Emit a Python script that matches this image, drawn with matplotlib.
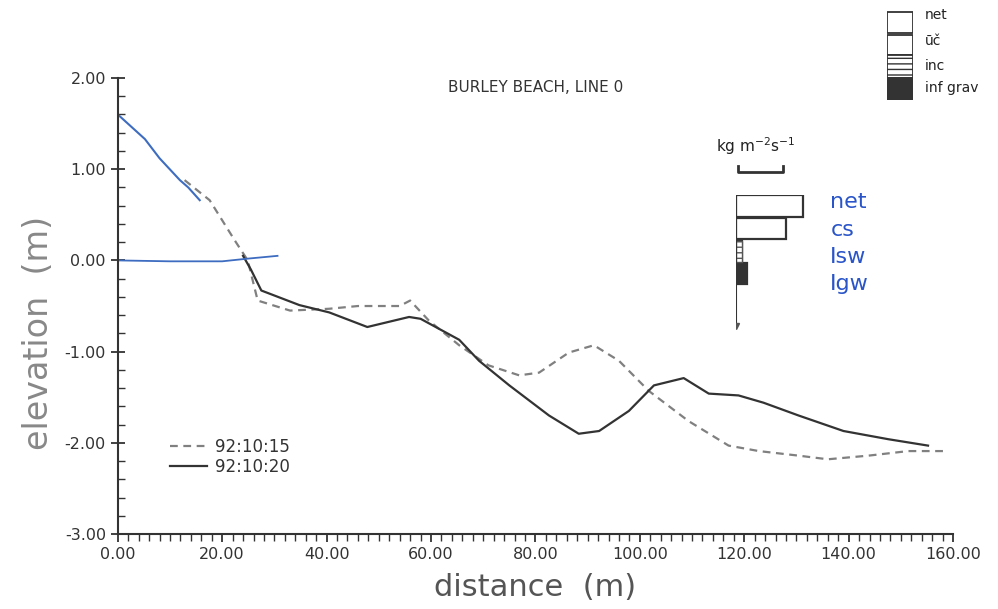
import numpy as np
import matplotlib.pyplot as plt
from matplotlib.ticker import MultipleLocator, FormatStrFormatter

# profile surveyed 92:10:15 (dashed)
x_15 = [12.8, 17.6, 22.4, 24.9, 26.8, 33.0, 40.5, 46.0, 54.0, 56.0, 59.6, 65.4,
        71.0, 76.9, 80.7, 86.4, 91.2, 96.0, 101.7, 109.3, 117.0, 122.8, 130.4,
        136.0, 143.8, 151.4, 158.7]
z_15 = [0.88, 0.66, 0.22, 0.00, -0.44, -0.55, -0.53, -0.50, -0.50, -0.44, -0.66, -0.93,
        -1.15, -1.26, -1.23, -1.01, -0.93, -1.10, -1.43, -1.76, -2.03, -2.09, -2.14,
        -2.18, -2.14, -2.09, -2.09]

# profile surveyed 92:10:20 (solid)
x_20 = [24.0, 25.5, 27.5, 34.8, 40.5, 47.8, 55.8, 58.0, 65.4, 69.2, 75.0, 82.6,
        88.3, 92.2, 97.9, 102.7, 108.4, 113.2, 118.9, 123.7, 130.4, 139.0, 147.6, 155.2]
z_20 = [0.05, -0.10, -0.33, -0.49, -0.57, -0.73, -0.62, -0.64, -0.87, -1.10, -1.37, -1.70,
        -1.90, -1.87, -1.65, -1.37, -1.29, -1.46, -1.48, -1.56, -1.70, -1.87, -1.96, -2.03]

# hand-drawn blue lines
x_blue1 = [0.0, 5.2, 8.0, 11.9, 13.5, 15.7]
z_blue1 = [1.60, 1.33, 1.12, 0.88, 0.80, 0.66]
x_blue2 = [0.0, 10.0, 20.0, 25.0, 30.6]
z_blue2 = [0.00, -0.01, -0.01, 0.02, 0.05]

# inset flux bars (kg m-2 s-1, scale bar = 1)
flux_names = ["net", "cs", "inc", "ig"]
flux_vals = [1.5, 1.13, 0.15, 0.26]
scale_len = 1.0
hand_labels = ["net", "cs", "Isw", "Igw"]

key_labels = ["net", "ūč", "inc", "inf grav"]

grey = "#555555"

fig = plt.figure(figsize=(9.98, 6.09), dpi=100)
ax = fig.add_axes([0.118, 0.123, 0.837, 0.749])

ax.plot(x_15, z_15, '--', color="#808080", lw=1.6, dashes=(3.5, 2.5), label="92:10:15")
ax.plot(x_20, z_20, '-', color="#333333", lw=1.6, label="92:10:20")
ax.plot(x_blue1, z_blue1, '-', color="#3d6cc0", lw=1.5)
ax.plot(x_blue2, z_blue2, '-', color="#3d6cc0", lw=1.3)

ax.set_xlim(0, 160)
ax.set_ylim(-3, 2)
ax.spines['top'].set_visible(False)
ax.spines['right'].set_visible(False)
for s in ['left', 'bottom']:
    ax.spines[s].set_color("#333333")
    ax.spines[s].set_linewidth(1.5)
ax.xaxis.set_major_locator(MultipleLocator(20))
ax.xaxis.set_minor_locator(MultipleLocator(2))
ax.yaxis.set_major_locator(MultipleLocator(1))
ax.yaxis.set_minor_locator(MultipleLocator(0.2))
ax.xaxis.set_major_formatter(FormatStrFormatter('%.2f'))
ax.yaxis.set_major_formatter(FormatStrFormatter('%.2f'))
ax.tick_params(axis='x', which='major', direction='out', length=6, width=1.3,
               colors="#333333", labelsize=11.5)
ax.tick_params(axis='x', which='minor', direction='out', length=5, width=1.0, color="#333333")
ax.tick_params(axis='y', which='major', direction='inout', length=10, width=1.3,
               colors="#333333", labelsize=11.5)
ax.tick_params(axis='y', which='minor', direction='in', length=5, width=1.0, color="#333333")

ax.set_xlabel("distance  (m)", fontsize=22, color=grey, labelpad=8)
ax.set_ylabel("elevation  (m)", fontsize=24, color="#888888")
ax.yaxis.set_label_coords(-0.075, 0.44)
ax.set_title("BURLEY BEACH, LINE 0", fontsize=11, color="#333333", x=0.5, y=0.95)

leg = ax.legend(loc="lower left", bbox_to_anchor=(0.045, 0.095), frameon=False,
                fontsize=12, handlelength=2.2, labelspacing=0.1, handletextpad=0.5)
for t in leg.get_texts():
    t.set_color("#333333")

# inset flux diagram
iax = fig.add_axes([0.737, 0.458, 0.11, 0.222])
iax.set_xlim(0, 110 / 45)
iax.set_ylim(-6, 0)
iax.axis('off')
ypos = [-0.5, -1.5, -2.5, -3.5]
cols = ["white", "white", "white", "#333333"]
for yp, v, c in zip(ypos, flux_vals, cols):
    iax.barh(yp, v, height=0.95, color=c, edgecolor="#333333", lw=1.6)
iax.barh(-2.5, flux_vals[2], height=0.95, color="white", edgecolor="#555555",
         hatch="---", lw=1.0)
iax.plot([0, 0], [0, -5.8], color="#333333", lw=1.5)
iax.plot([0], [-5.8], marker='v', color="#555555", ms=5)
for i, lab in enumerate(hand_labels):
    fig.text(0.832, 0.668 - i * 0.045, lab, color="#2a55c9", fontsize=16,
             va='center', ha='left')

# scale bar
sax = fig.add_axes([0.735, 0.7, 0.09, 0.06])
sax.set_xlim(-0.1, 1.9)
sax.set_ylim(0, 1)
sax.axis('off')
sax.plot([0, 0, scale_len, scale_len], [0.45, 0.3, 0.3, 0.45], color="#333333", lw=2)
sax.text(-0.5, 0.7, "kg m$^{-2}$s$^{-1}$", fontsize=11, color="#222222", va='bottom')

# key in top-right corner
kax = fig.add_axes([0.889, 0.835, 0.026, 0.148])
kax.set_xlim(0, 1)
kax.set_ylim(-4, 0)
kax.axis('off')
kcols = ["white", "white", "white", "#333333"]
khatch = [None, None, "---", None]
key_y = [-0.2, -1.35, -2.45, -3.45]
for i, (lab, c, h) in enumerate(zip(key_labels, kcols, khatch)):
    kax.bar(0.5, 1.0 if i > 1 else 0.92, bottom=-(i + 1), width=1.0, color=c,
            hatch=h, edgecolor="#333333", lw=1.3)
    kax.text(1.45, key_y[i], lab, fontsize=10,
             color="#222222", va='center', ha='left', clip_on=False)

fig.savefig("out.png", dpi=100)
